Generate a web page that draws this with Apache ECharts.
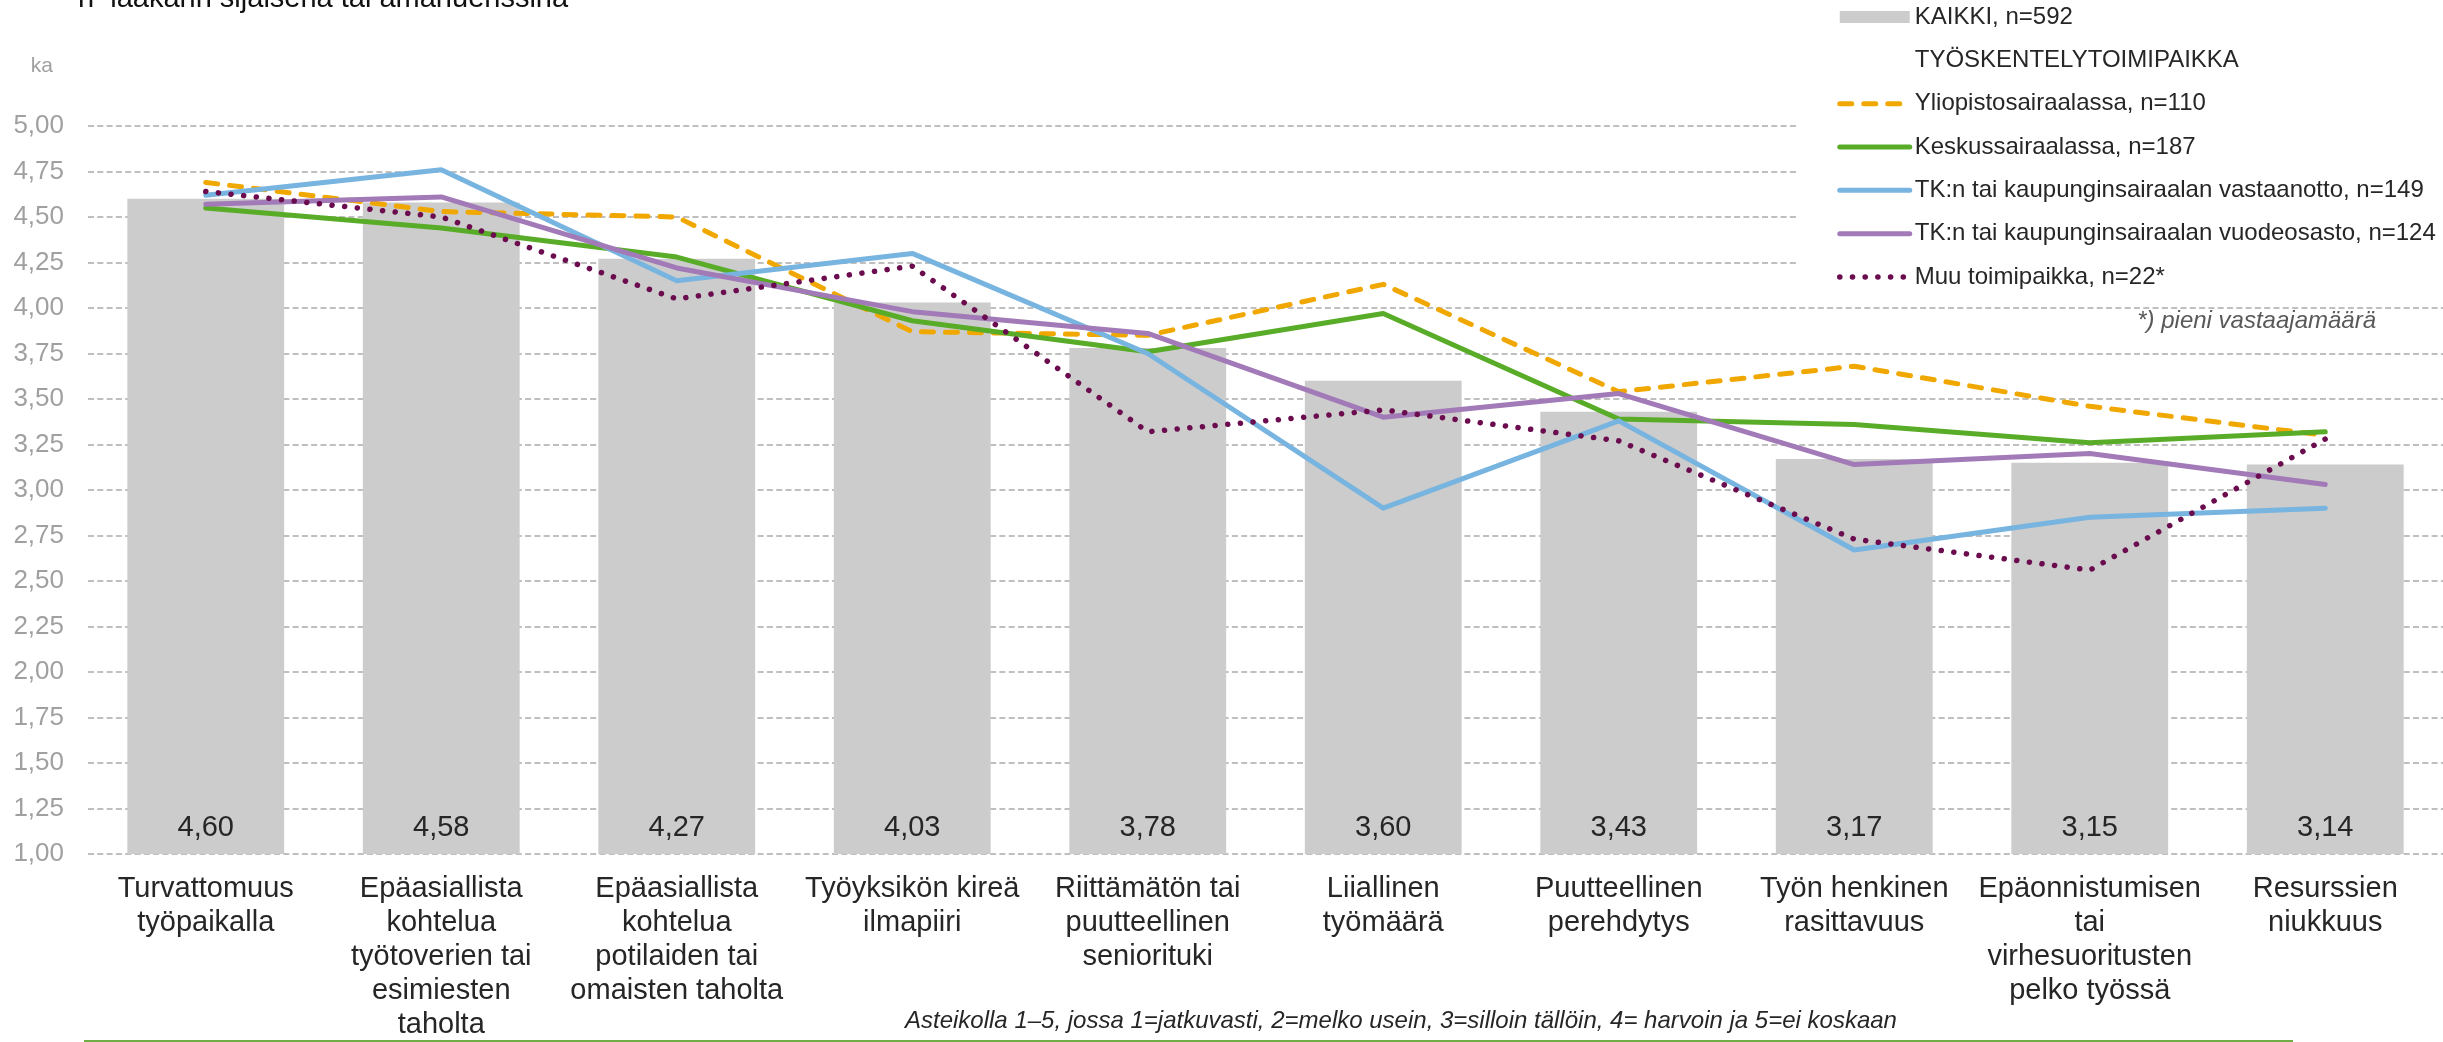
<!DOCTYPE html>
<html>
<head>
<meta charset="utf-8">
<script src="https://cdn.jsdelivr.net/npm/echarts@6/dist/echarts.min.js"></script>
<style>
html,body{margin:0;padding:0;background:#fff;}
#chart{width:2443px;height:1042px;}
</style>
</head>
<body>
<div id="chart"></div>
<script>
const categories = [
  'Turvattomuus\ntyöpaikalla',
  'Epäasiallista\nkohtelua\ntyötoverien tai\nesimiesten\ntaholta',
  'Epäasiallista\nkohtelua\npotilaiden tai\nomaisten taholta',
  'Työyksikön kireä\nilmapiiri',
  'Riittämätön tai\npuutteellinen\nsenioritukI'.replace('I','i'),
  'Liiallinen\ntyömäärä',
  'Puutteellinen\nperehdytys',
  'Työn henkinen\nrasittavuus',
  'Epäonnistumisen\ntai\nvirhesuoritusten\npelko työssä',
  'Resurssien\nniukkuus'
];
const kaikki = [4.60, 4.58, 4.27, 4.03, 3.78, 3.60, 3.43, 3.17, 3.15, 3.14];
const yliopisto = [4.69, 4.53, 4.50, 3.87, 3.85, 4.13, 3.54, 3.68, 3.46, 3.30];
const keskus = [4.55, 4.44, 4.28, 3.93, 3.76, 3.97, 3.39, 3.36, 3.26, 3.32];
const tkVastaanotto = [4.62, 4.76, 4.15, 4.30, 3.75, 2.90, 3.38, 2.67, 2.85, 2.90];
const tkVuodeosasto = [4.57, 4.61, 4.22, 3.98, 3.86, 3.40, 3.53, 3.14, 3.20, 3.03];
const muu = [4.64, 4.50, 4.05, 4.23, 3.32, 3.44, 3.27, 2.73, 2.56, 3.28];

const names = {
  kaikki: 'KAIKKI, n=592',
  header: 'TYÖSKENTELYTOIMIPAIKKA',
  ylio: 'Yliopistosairaalassa, n=110',
  kesk: 'Keskussairaalassa, n=187',
  vast: 'TK:n tai kaupunginsairaalan vastaanotto, n=149',
  vuod: 'TK:n tai kaupunginsairaalan vuodeosasto, n=124',
  muu: 'Muu toimipaikka, n=22*'
};

const FONT = '"Liberation Sans", Arial, sans-serif';
const fmt = v => Number(v).toFixed(2).replace('.', ',');

const chart = echarts.init(document.getElementById('chart'), null, {renderer: 'canvas'});

function lineSeries(name, data, color) {
  return {
    type: 'line', name: name, data: data, symbol: 'none', z: 5,
    lineStyle: {width: 5, color: color, cap: 'round', join: 'round'},
    itemStyle: {color: color},
    emphasis: {disabled: true}
  };
}

const ylioS = lineSeries(names.ylio, yliopisto, '#F0A800');
ylioS.lineStyle.type = [12, 12];
const muuS = lineSeries(names.muu, muu, '#6B0C4F');
muuS.lineStyle.type = [0.1, 12.6];
muuS.lineStyle.width = 5.5;

const legLine = (w) => ({width: w, cap: 'round'});

chart.setOption({
  animation: false,
  textStyle: {fontFamily: FONT},
  grid: {left: 88, right: 0, top: 126, bottom: 182},
  legend: {
    orient: 'vertical', left: 1797, top: 0, padding: [3, 30, 8, 40],
    backgroundColor: '#ffffff',
    itemWidth: 70, itemHeight: 12, itemGap: 15.33,
    selectedMode: false,
    textStyle: {fontSize: 24, color: '#262626', lineHeight: 28, fontFamily: FONT},
    lineStyle: {width: 5, cap: 'round'},
    data: [
      {name: names.kaikki, icon: 'rect'},
      {name: names.header, icon: 'rect', itemStyle: {opacity: 0}},
      {name: names.ylio, itemStyle: {opacity: 0}, lineStyle: legLine(5)},
      {name: names.kesk, itemStyle: {opacity: 0}, lineStyle: legLine(5)},
      {name: names.vast, itemStyle: {opacity: 0}, lineStyle: legLine(5)},
      {name: names.vuod, itemStyle: {opacity: 0}, lineStyle: legLine(5)},
      {name: names.muu, itemStyle: {opacity: 0}, lineStyle: legLine(5.5)}
    ]
  },
  xAxis: {
    type: 'category', data: categories,
    axisLine: {show: false}, axisTick: {show: false},
    axisLabel: {interval: 0, fontSize: 29, lineHeight: 34, color: '#262626', margin: 18, fontFamily: FONT}
  },
  yAxis: {
    type: 'value', min: 1, max: 5, interval: 0.25,
    name: 'ka', nameLocation: 'end', nameGap: 60,
    nameTextStyle: {color: '#A0A0A0', fontSize: 21, align: 'right', verticalAlign: 'middle', padding: [0, 35, 0, 0], fontFamily: FONT},
    axisLine: {show: false}, axisTick: {show: false},
    axisLabel: {formatter: fmt, color: '#A0A0A0', fontSize: 26, margin: 24, fontFamily: FONT},
    splitLine: {show: true, lineStyle: {color: '#ABABAB', width: 1.5, type: [6, 3.3]}}
  },
  series: [
    {
      type: 'bar', name: names.kaikki, data: kaikki, barWidth: '66.6%',
      itemStyle: {color: '#CCCCCC'}, z: 2,
      emphasis: {disabled: true},
      label: {show: true, position: 'insideBottom', distance: 11, fontSize: 29, lineHeight: 30, color: '#262626', formatter: p => fmt(p.value), fontFamily: FONT}
    },
    {type: 'line', name: names.header, data: [], symbol: 'none', lineStyle: {opacity: 0}},
    ylioS,
    lineSeries(names.kesk, keskus, '#59AC28'),
    lineSeries(names.vast, tkVastaanotto, '#78B4E0'),
    lineSeries(names.vuod, tkVuodeosasto, '#A27AB8'),
    muuS
  ],
  graphic: [
    {type: 'text', left: 78, top: -16, silent: true,
     style: {text: 'n–lääkärin sijaisena tai amanuenssina', font: '29px ' + FONT, fill: '#111'}},
    {type: 'text', right: 2443 - 2376, top: 309, silent: true,
     style: {text: '*) pieni vastaajamäärä', font: 'italic 24px ' + FONT, fill: '#595959'}},
    {type: 'text', left: 905, top: 1009, silent: true,
     style: {text: 'Asteikolla 1–5, jossa 1=jatkuvasti, 2=melko usein, 3=silloin tällöin, 4= harvoin ja 5=ei koskaan', font: 'italic 24px ' + FONT, fill: '#262626'}},
    {type: 'line', silent: true, shape: {x1: 84, y1: 1041, x2: 2293, y2: 1041},
     style: {stroke: '#70AD47', lineWidth: 2}}
  ]
});
</script>
</body>
</html>
